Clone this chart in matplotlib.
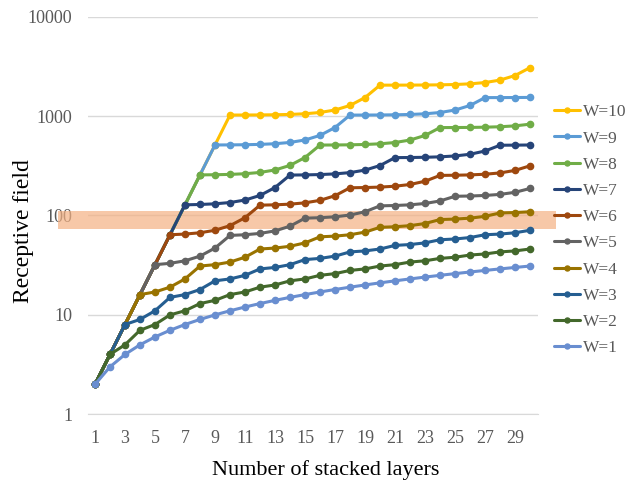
import matplotlib
matplotlib.use("Agg")
import matplotlib.pyplot as plt
import matplotlib.transforms as mtransforms
from matplotlib.patches import Rectangle

plt.rcParams['font.family'] = ['Liberation Serif', 'DejaVu Serif']

layers = list(range(1, 31))

# receptive field per number of stacked layers, one list per W
rf_w1 = [2, 3, 4, 5, 6, 7, 8, 9, 10, 11, 12, 13, 14, 15, 16,
         17, 18, 19, 20, 21, 22, 23, 24, 25, 26, 27, 28, 29, 30, 31]
rf_w2 = [2, 4, 5, 7, 8, 10, 11, 13, 14, 16, 17, 19, 20, 22, 23,
         25, 26, 28, 29, 31, 32, 34, 35, 37, 38, 40, 41, 43, 44, 46]
rf_w3 = [2, 4, 8, 9, 11, 15, 16, 18, 22, 23, 25, 29, 30, 32, 36,
         37, 39, 43, 44, 46, 50, 51, 53, 57, 58, 60, 64, 65, 67, 71]
rf_w4 = [2, 4, 8, 16, 17, 19, 23, 31, 32, 34, 38, 46, 47, 49, 53,
         61, 62, 64, 68, 76, 77, 79, 83, 91, 92, 94, 98, 106, 107, 109]
rf_w5 = [2, 4, 8, 16, 32, 33, 35, 39, 47, 63, 64, 66, 70, 78, 94,
         95, 97, 101, 109, 125, 126, 128, 132, 140, 156, 157, 159, 163, 171, 187]
rf_w6 = [2, 4, 8, 16, 32, 64, 65, 67, 71, 79, 95, 127, 128, 130, 134,
         142, 158, 190, 191, 193, 197, 205, 221, 253, 254, 256, 260, 268, 284, 316]
rf_w7 = [2, 4, 8, 16, 32, 64, 128, 129, 131, 135, 143, 159, 191, 255, 256,
         258, 262, 270, 286, 318, 382, 383, 385, 389, 397, 413, 445, 509, 510, 512]
rf_w8 = [2, 4, 8, 16, 32, 64, 128, 256, 257, 259, 263, 271, 287, 319, 383,
         511, 512, 514, 518, 526, 542, 574, 638, 766, 767, 769, 773, 781, 797, 829]
rf_w9 = [2, 4, 8, 16, 32, 64, 128, 256, 512, 513, 515, 519, 527, 543, 575,
         639, 767, 1023, 1024, 1026, 1030, 1038, 1054, 1086, 1150, 1278, 1534, 1535, 1537, 1541]
rf_w10 = [2, 4, 8, 16, 32, 64, 128, 256, 512, 1024, 1025, 1027, 1031, 1039, 1055,
          1087, 1151, 1279, 1535, 2047, 2048, 2050, 2054, 2062, 2078, 2110, 2174, 2302, 2558, 3070]

series_labels = ['W=10', 'W=9', 'W=8', 'W=7', 'W=6', 'W=5', 'W=4', 'W=3', 'W=2', 'W=1']
series_values = [rf_w10, rf_w9, rf_w8, rf_w7, rf_w6, rf_w5, rf_w4, rf_w3, rf_w2, rf_w1]
series_colors = ['#FFC000', '#5B9BD5', '#70AD47', '#264478', '#9E480E',
                 '#636363', '#997300', '#255E91', '#43682B', '#698ED0']

x_ticks = list(range(1, 30, 2))
y_ticks = [1, 10, 100, 1000, 10000]
y_tick_labels = ['1', '10', '100', '1000', '10000']

# highlighted receptive-field range
band_low, band_high = 73, 111

fig = plt.figure(figsize=(6.37, 4.82), dpi=100)
ax = fig.add_axes([87.5 / 637, 0.1405, 450 / 637, 0.8249])

for vals, lab, col in zip(series_values, series_labels, series_colors):
    ax.plot(layers, vals, color=col, lw=2.2, marker='o', ms=4.5,
            label=lab, zorder=3, solid_capstyle='round')

ax.set_yscale('log')
ax.set_ylim(1, 10000)
ax.set_xlim(0.5, 30.5)
ax.set_xticks(x_ticks)
ax.set_xticklabels([str(v) for v in x_ticks])
ax.set_yticks(y_ticks)
ax.set_yticklabels(y_tick_labels)
ax.minorticks_off()
ax.tick_params(axis='both', length=0, labelsize=13, labelcolor='#595959')
ax.tick_params(axis='x', pad=11)
ax.tick_params(axis='y', pad=11)

ax.grid(axis='y', color='#D9D9D9', lw=1)
ax.set_axisbelow(True)
for s in ['top', 'right', 'left']:
    ax.spines[s].set_visible(False)
ax.spines['bottom'].set_color('#D9D9D9')

# band spans from left of the tick labels into the legend column
trans = mtransforms.blended_transform_factory(ax.transAxes, ax.transData)
band = Rectangle((-29.5 / 450, band_low), 498 / 450, band_high - band_low,
                 transform=trans, facecolor='#F4B183', alpha=0.7, lw=0,
                 clip_on=False, zorder=2.6)
ax.add_patch(band)

ax.set_xlabel('Number of stacked layers', fontsize=16)
ax.set_ylabel('Receptive field', fontsize=17)
ax.xaxis.set_label_coords(0.529, -0.115)
ax.yaxis.set_label_coords(-0.118, 0.46)

leg = ax.legend(loc='upper left', bbox_to_anchor=(1.037, 0.78), frameon=False,
                fontsize=12.5, handlelength=1.5, handletextpad=0.15,
                borderaxespad=0, borderpad=0,
                labelspacing=0.58, labelcolor='#595959', markerscale=0.8)

fig.savefig('out.png', dpi=100)
